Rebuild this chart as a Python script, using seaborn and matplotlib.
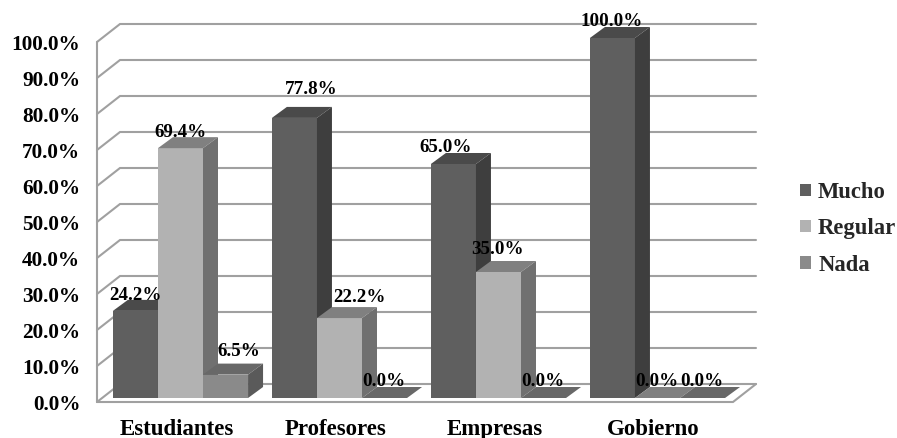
import matplotlib
matplotlib.use("Agg")
import matplotlib.pyplot as plt
import numpy as np
import pandas as pd
import seaborn as sns

categories = ["Estudiantes", "Profesores", "Empresas", "Gobierno"]
mucho = [24.2, 77.8, 65.0, 100.0]
regular = [69.4, 22.2, 35.0, 0.0]
nada = [6.5, 0.0, 0.0, 0.0]
tick_values = np.arange(0, 101, 10)

series_names = ["Mucho", "Regular", "Nada"]
front_colors = ["#5f5f5f", "#b2b2b2", "#8a8a8a"]
top_colors = ["#4a4a4a", "#808080", "#686868"]
side_colors = ["#3e3e3e", "#707070", "#5a5a5a"]
grid_color = "#a0a0a0"

# small manual nudges of the value labels, in pixels (x, y above the bar)
label_nudge = {
    "Mucho": [(0, 15), (17, 28), (-8, 16), (-1, 17)],
    "Regular": [(0, 16), (20, 21), (-1, 22), (-1, 16)],
    "Nada": [(13, 23), (-1, 17), (-1, 17), (-1, 16)],
}

# pixel sizes of the fake 3D look
px_x = 1 / 159
px_y = 100 / 360
bar_depth = (15, 11)
wall_front = (-4, -4)
wall_back = (19, 14)

df = pd.DataFrame({"Grupo": categories, "Mucho": mucho, "Regular": regular, "Nada": nada})
df_long = df.melt(id_vars="Grupo", var_name="Serie", value_name="Valor")

sns.set_style("white")
plt.rcParams["font.family"] = ["Liberation Serif", "DejaVu Serif"]
plt.rcParams["font.weight"] = "bold"

fig = plt.figure(figsize=(8.97, 4.38), dpi=100)
ax = fig.add_axes([97 / 897, 36 / 438, 636 / 897, 364 / 438])
sns.barplot(data=df_long, x="Grupo", y="Valor", hue="Serie", hue_order=series_names,
            palette=front_colors, width=0.85, gap=0, saturation=1, errorbar=None, ax=ax)

x_left = -0.525
x_right = 3.475
y_bottom = wall_front[1] * px_y
ax.set_xlim(x_left, x_right)
ax.set_ylim(y_bottom, 100)

# back wall and floor
back_x = wall_back[0] * px_x - wall_front[0] * px_x
back_y = wall_back[1] * px_y - wall_front[1] * px_y
for v in tick_values:
    y = v + y_bottom
    ax.plot([x_left, x_left + back_x, x_right + back_x], [y, y + back_y, y + back_y],
            color=grid_color, lw=1.5, clip_on=False, zorder=1, solid_joinstyle="miter")
ax.plot([x_left, x_left], [y_bottom, 100 + y_bottom], color=grid_color, lw=1.5, clip_on=False, zorder=1)
ax.plot([x_left, x_right, x_right + back_x], [y_bottom, y_bottom, y_bottom + back_y],
        color=grid_color, lw=1.5, clip_on=False, zorder=1, solid_joinstyle="miter")

# side and top faces, built from the bars seaborn drew
dx = bar_depth[0] * px_x
dy = bar_depth[1] * px_y
for s, container in enumerate(ax.containers):
    name = series_names[s]
    for c, bar in enumerate(container):
        x0 = bar.get_x()
        x1 = x0 + bar.get_width()
        h = bar.get_height()
        z = 3 + c * 3 + s
        bar.set_zorder(z)
        bar.set_clip_on(False)
        bar.set_linewidth(0)
        bar.set_edgecolor("none")
        ax.fill([x0, x1, x1 + dx, x0 + dx], [h, h, h + dy, h + dy], color=top_colors[s],
                lw=0, clip_on=False, zorder=z)
        ax.fill([x1, x1 + dx, x1 + dx, x1], [0, dy, h + dy, h], color=side_colors[s],
                lw=0, clip_on=False, zorder=z)
        nudge = label_nudge[name][c]
        ax.annotate(f"{h:.1f}%", (x0 + bar.get_width() / 2, h), xytext=(nudge[0] * 0.72, nudge[1] * 0.72),
                    textcoords="offset points", ha="center", va="center", fontsize=13.7,
                    fontweight="bold", color="black", zorder=30, annotation_clip=False)

ax.set_yticks(tick_values + y_bottom)
ax.set_yticklabels([f"{v:.1f}%" for v in tick_values], fontsize=15.3, fontweight="bold")
ax.set_xticks(np.arange(len(categories)) + wall_front[0] * px_x)
ax.set_xticklabels(categories, fontsize=16.5, fontweight="bold")
ax.tick_params(axis="y", length=0, pad=12, colors="black")
ax.tick_params(axis="x", length=0, pad=12, colors="black")
ax.set_xlabel("")
ax.set_ylabel("")
sns.despine(ax=ax, left=True, bottom=True)

leg = ax.legend(loc="center left", bbox_to_anchor=(1.106, 0.476), frameon=False, title=None, fontsize=16.3,
                handlelength=0.45, handleheight=0.45, handletextpad=0.33, labelspacing=0.68, borderpad=0,
                borderaxespad=0)
for handle in leg.get_patches():
    handle.set_linewidth(0)

fig.savefig("out.png", dpi=100)
